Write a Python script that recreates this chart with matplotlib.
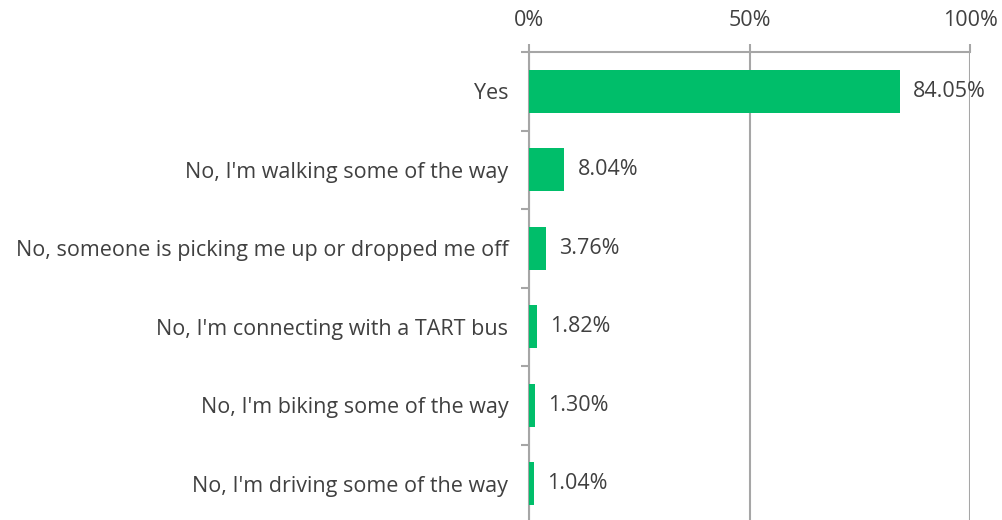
import matplotlib
matplotlib.use("Agg")
import matplotlib.pyplot as plt
import numpy as np

# ── Data ──────────────────────────────────────────────────────────────
categories = [
    "Yes",
    "No, I'm walking some of the way",
    "No, someone is picking me up or dropped me off",
    "No, I'm connecting with a TART bus",
    "No, I'm biking some of the way",
    "No, I'm driving some of the way",
]
values = [84.05, 8.04, 3.76, 1.82, 1.30, 1.04]
x_ticks = [0, 50, 100]

GREEN = "#00BE6A"
GRID = "#A6A6A6"
TEXT = "#404040"
FS = 15.5

plt.rcParams["font.family"] = ["Open Sans", "DejaVu Sans"]

fig = plt.figure(figsize=(10.02, 5.2), dpi=100)
# axes: 0% at x=529, 100% at x=970, top at y=52, bottom ~523
ax = fig.add_axes([529 / 1002, -3 / 520, 441 / 1002, 471 / 520])

y = np.arange(len(categories))
ax.barh(y, values, height=0.55, color=GREEN, zorder=3)

for yi, v in zip(y, values):
    ax.text(v + 3.0, yi, f"{v:.2f}%", va="center", ha="left",
            fontsize=FS, color=TEXT, zorder=4)

ax.set_xlim(0, 100)
ax.set_ylim(len(categories) - 0.5, -0.5)
ax.set_xticks(x_ticks)
ax.set_xticklabels([f"{t}%" for t in x_ticks], fontsize=FS, color=TEXT)
ax.xaxis.tick_top()
ax.tick_params(axis="x", length=6, width=1.5, color=GRID, pad=9)

ax.set_yticks(y)
ax.set_yticklabels(categories, fontsize=FS, color=TEXT)
ax.set_yticks(np.arange(len(categories) + 1) - 0.5, minor=True)
ax.tick_params(axis="y", which="major", length=0, pad=15)
ax.tick_params(axis="y", which="minor", length=6, width=1.5, color=GRID)

ax.grid(axis="x", color=GRID, linewidth=1.5, zorder=1)
for side in ["right", "bottom"]:
    ax.spines[side].set_visible(False)
for side in ["top", "left"]:
    ax.spines[side].set_color(GRID)
    ax.spines[side].set_linewidth(1.5)

fig.savefig("out.png", dpi=100, facecolor="white")
